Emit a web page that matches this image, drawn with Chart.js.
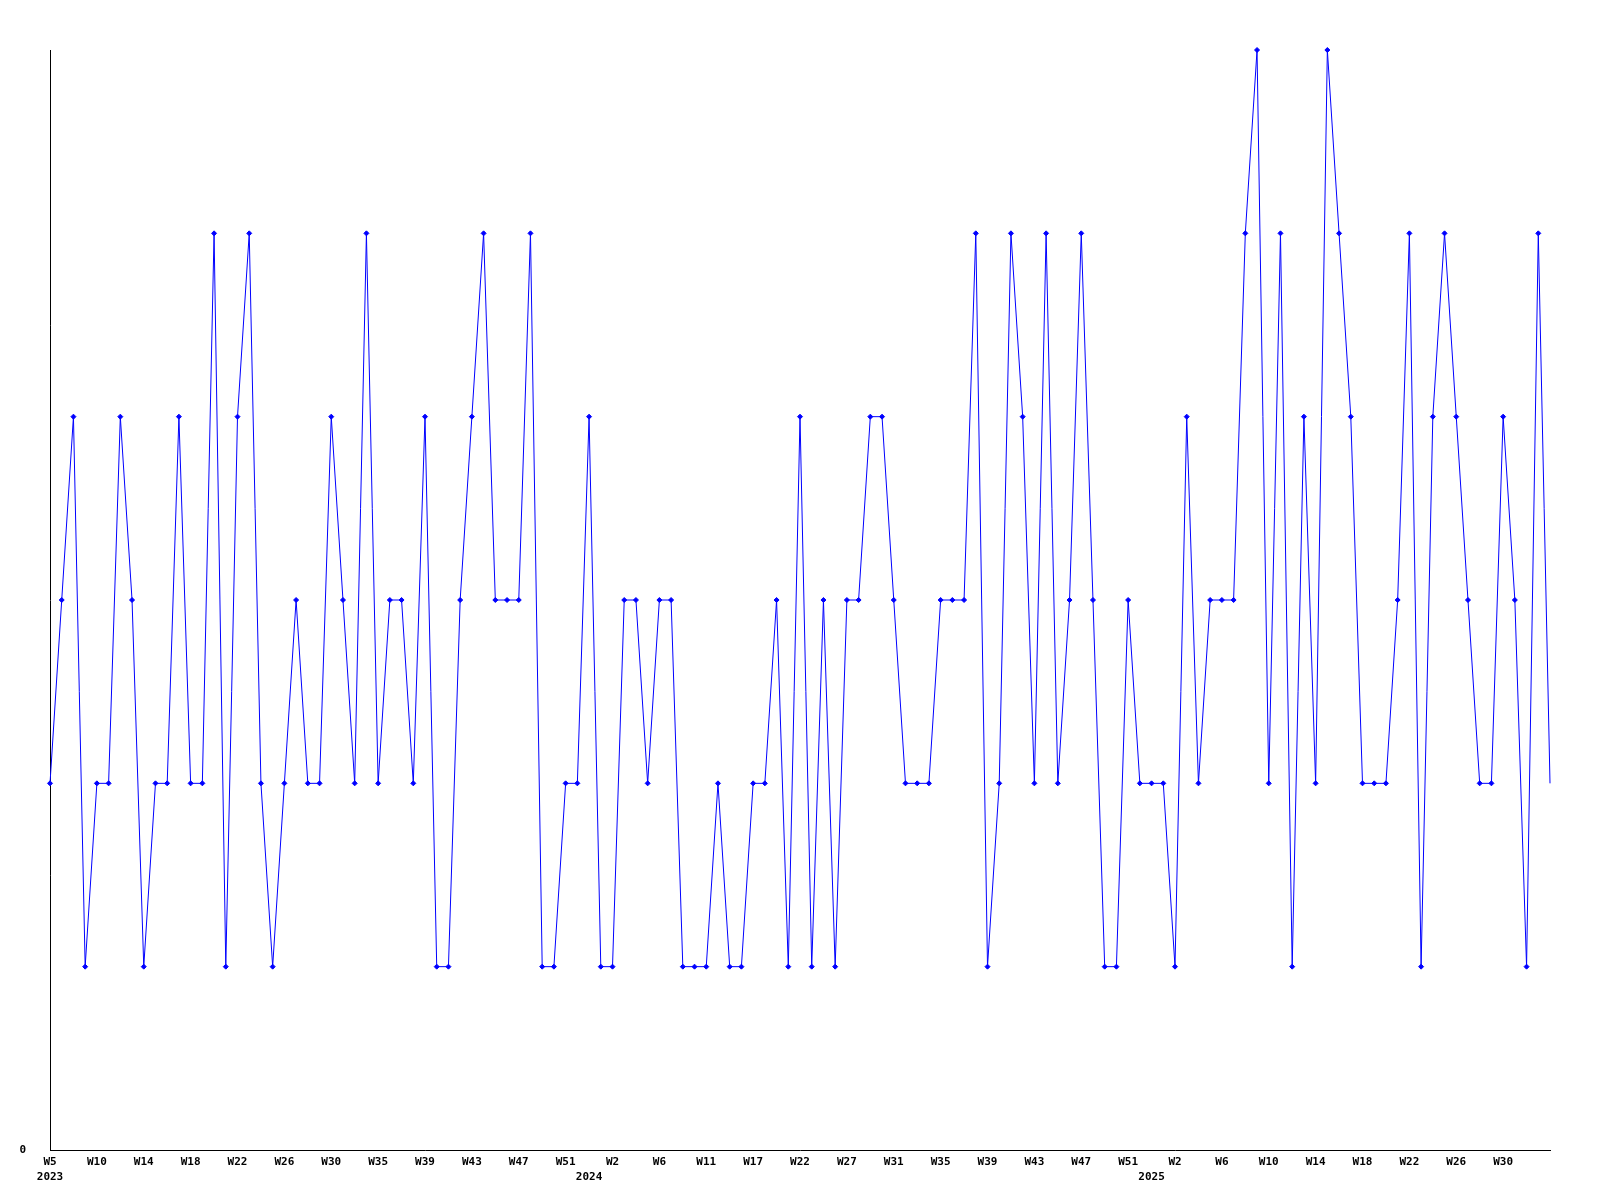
<!DOCTYPE html>
<html>
<head>
<meta charset="utf-8">
<script src="https://cdn.jsdelivr.net/npm/chart.js@4/dist/chart.umd.min.js"></script>
<style>
  html, body { margin: 0; padding: 0; background: #ffffff; }
  #wrap { width: 1600px; height: 1200px; }
</style>
</head>
<body>
<div id="wrap"><canvas id="c" width="1600" height="1200"></canvas></div>
<script>
// Weekly values, 2023 W5 onward (one entry per plotted point)
const values = [
  2,3,4,1,2,2,4,3,1,2,
  2,4,2,2,5,1,4,5,2,1,
  2,3,2,2,4,3,2,5,2,3,
  3,2,4,1,1,3,4,5,3,3,
  3,5,1,1,2,2,4,1,1,3,
  3,2,3,3,1,1,1,2,1,1,
  2,2,3,1,4,1,3,1,3,3,
  4,4,3,2,2,2,3,3,3,5,
  1,2,5,4,2,5,2,3,5,3,
  1,1,3,2,2,2,1,4,2,3,
  3,3,5,6,2,5,1,4,2,6,
  5,4,2,2,2,3,5,1,4,5,
  4,3,2,2,4,3,1,5,2
];

// Tick labels shown every 4th point
const tickLabels = [
  'W5','W10','W14','W18','W22','W26','W30','W35','W39','W43','W47','W51',
  'W2','W6','W11','W17','W22','W27','W31','W35','W39','W43','W47','W51',
  'W2','W6','W10','W14','W18','W22','W26','W30'
];
const tickEvery = 4;

// Year labels and the point index they sit under
const yearLabels = ['2023','2024','2025'];
const yearIndex = [0, 46, 94];

const FONT = "'DejaVu Sans Mono', 'Liberation Mono', monospace";

const yearPlugin = {
  id: 'yearLabels',
  afterDraw(chart) {
    const ctx = chart.ctx;
    const xs = chart.scales.x;
    ctx.save();
    ctx.font = 'bold 11px ' + FONT;
    ctx.fillStyle = '#000000';
    ctx.textAlign = 'center';
    ctx.textBaseline = 'top';
    yearLabels.forEach((t, k) => {
      const px = xs.getPixelForValue(yearIndex[k]);
      ctx.fillText(t, px, chart.chartArea.bottom + 22);
    });
    ctx.restore();
  }
};

new Chart(document.getElementById('c'), {
  type: 'line',
  data: {
    datasets: [{
      data: values.map((v, i) => ({ x: i, y: v })),
      borderColor: '#0000ff',
      backgroundColor: '#0000ff',
      borderWidth: 1,
      tension: 0,
      fill: false,
      pointStyle: 'rectRot',
      pointRadius: (c) => c.dataIndex === values.length - 1 ? 0 : 2.5,
      pointBorderWidth: 1,
      pointBackgroundColor: '#0000ff',
      pointBorderColor: '#0000ff',
      clip: false
    }]
  },
  options: {
    responsive: false,
    animation: false,
    events: [],
    layout: { padding: { top: 50, right: 50, left: 0, bottom: 0 } },
    plugins: { legend: { display: false }, tooltip: { enabled: false }, title: { display: false } },
    scales: {
      x: {
        type: 'linear',
        min: 0,
        max: values.length - 1,
        grid: { display: false, drawTicks: false },
        border: { display: true, color: '#000000', width: 1 },
        afterFit: (s) => { s.height = 50; },
        ticks: {
          stepSize: tickEvery,
          maxTicksLimit: 200,
          autoSkip: false,
          maxRotation: 0,
          minRotation: 0,
          padding: 6,
          color: '#000000',
          font: { family: FONT, size: 11, weight: 'bold' },
          callback: (v) => {
            const k = v / tickEvery;
            return Number.isInteger(k) && tickLabels[k] !== undefined ? tickLabels[k] : '';
          }
        }
      },
      y: {
        min: 0,
        max: 6,
        grid: { display: false, drawTicks: false },
        border: { display: true, color: '#000000', width: 1 },
        afterFit: (s) => { s.width = 50; },
        ticks: {
          stepSize: 1,
          padding: 24,
          color: '#000000',
          font: { family: FONT, size: 11, weight: 'bold' },
          callback: (v) => v === 0 ? '0' : ''
        }
      }
    }
  },
  plugins: [yearPlugin]
});
</script>
</body>
</html>
